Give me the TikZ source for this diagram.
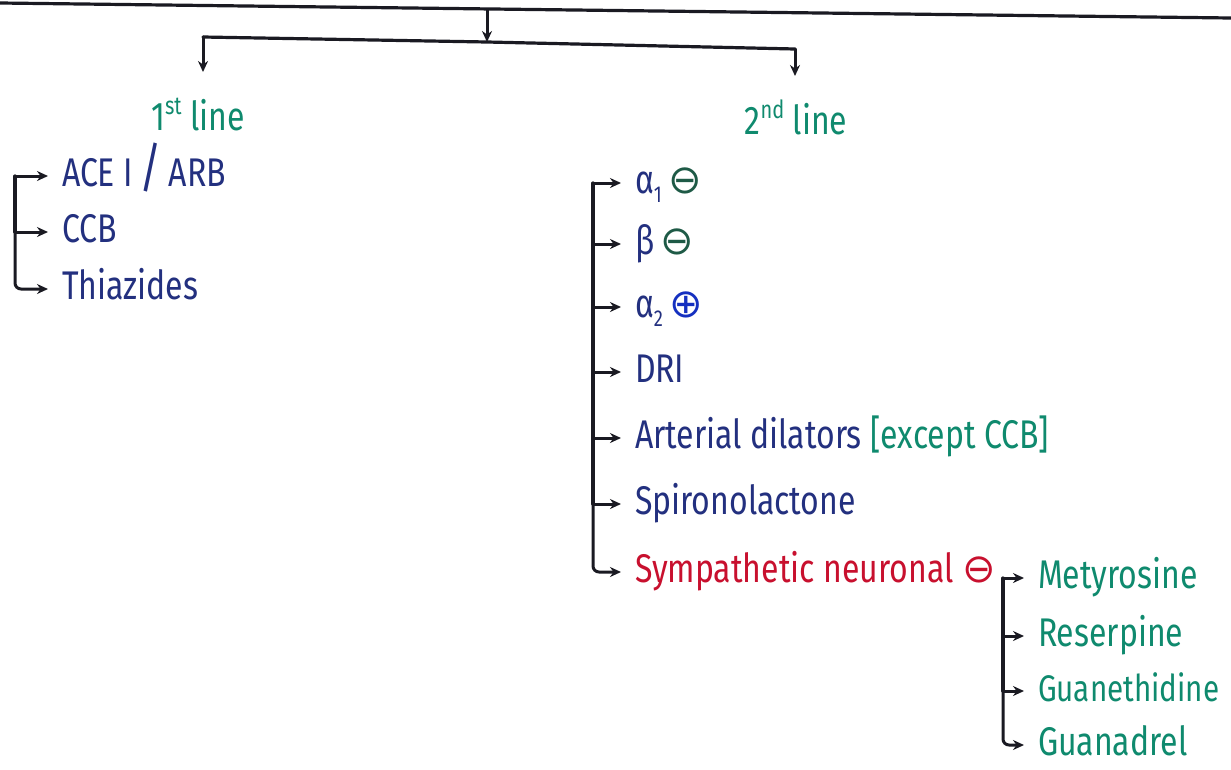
\documentclass[tikz,border=0pt]{standalone}
\usepackage{fontspec}
\setmainfont{Fira Sans}[FakeStretch=0.8]
\newfontfamily\symfont{DejaVu Sans}
\usetikzlibrary{arrows.meta}
\definecolor{ink}{HTML}{1A1A22}
\definecolor{navy}{HTML}{23307F}
\definecolor{teal}{HTML}{0F8A6E}
\definecolor{dgreen}{HTML}{1E5A46}
\definecolor{redd}{HTML}{C8102E}
\definecolor{pblue}{HTML}{1530C0}
\newcommand{\lowidx}[1]{\raisebox{-9pt}{\fontsize{23}{23}\selectfont #1}}
\newcommand{\highidx}[1]{\raisebox{16pt}{\fontsize{25}{25}\selectfont #1}}
\tikzset{
  txt/.style={anchor=west, inner sep=0pt, outer sep=14pt, text height=27pt, text depth=6pt,
    font=\fontsize{40}{46}\selectfont, text=navy},
  head/.style={anchor=center, inner sep=0pt, text height=30pt, text depth=6pt,
    font=\fontsize{40}{46}\selectfont, text=teal},
  arr/.style={-{Stealth[length=11pt,width=10pt]}, line width=3pt, draw=ink, line cap=round},
  ln/.style={line width=3.2pt, draw=ink, line cap=round}
}
\begin{document}
\begin{tikzpicture}[x=1pt,y=-1pt]
\useasboundingbox[fill=white] (0,0) rectangle (1231,769);

% top trunk
\coordinate (tl) at (0,3);
\coordinate (tr) at (1231,18);
\draw[ln] (tl) -- (tr);
\coordinate (split) at (487,9.5);
\coordinate (barmid) at (487,42);
\draw[arr] (split) -- (barmid);
\coordinate (barL) at (203,37);
\coordinate (barR) at (795,49);
\draw[ln] (barL) -- (barmid) -- (barR);
\coordinate (firstTip) at (203,72);
\coordinate (secondTip) at (795,76);
\draw[arr] (barL) -- (firstTip);
\draw[arr] (barR) -- (secondTip);

% headings
\node[head] (first) at (198,118) {1\highidx{st} line};
\node[head] (second) at (796,122) {2\highidx{nd} line};

% first line drugs
\node[txt] (ace) at (48,176) {ACE I\,{\fontsize{54}{54}\selectfont /}\,ARB};
\node[txt] (ccb) at (48,232) {CCB};
\node[txt] (thz) at (48,289) {Thiazides};
\coordinate (Ltop) at (15,176);
\coordinate (Lmid) at (15,232);
\coordinate (Lbot) at (15,289);
\draw[ln] (Ltop) -- (Lmid);
\draw[arr] (Ltop) -- (ace.west);
\draw[arr] (Lmid) -- (ccb.west);
\draw[arr, rounded corners=6pt] (Lmid) -- (Lbot) -- (thz.west);

% second line drugs
\node[txt] (a1) at (621,183) {α\lowidx{1}\,{\symfont\color{dgreen}⊖}};
\node[txt] (beta) at (621,244) {β\,{\symfont\color{dgreen}⊖}};
\node[txt] (a2) at (621,307) {α\lowidx{2}\,{\symfont\color{pblue}⊕}};
\node[txt] (dri) at (621,372) {DRI};
\node[txt] (art) at (621,438) {Arterial dilators {\color{teal}[except CCB]}};
\node[txt] (spi) at (621,504) {Spironolactone};
\node[txt, text=redd] (sym) at (621,572) {Sympathetic neuronal {\symfont ⊖}};
\coordinate (R1) at (593,183);
\coordinate (R2) at (593,244);
\coordinate (R3) at (593,307);
\coordinate (R4) at (593,372);
\coordinate (R5) at (593,438);
\coordinate (R6) at (593,504);
\coordinate (R7) at (593,572);
\draw[ln] (R1) -- (R6);
\draw[arr] (R1) -- (a1.west);
\draw[arr] (R2) -- (beta.west);
\draw[arr] (R3) -- (a2.west);
\draw[arr] (R4) -- (dri.west);
\draw[arr] (R5) -- (art.west);
\draw[arr] (R6) -- (spi.west);
\draw[arr, rounded corners=6pt] (R6) -- (R7) -- (sym.west);

% sympathetic neuronal inhibitors
\node[txt, text=teal] (mety) at (1024,578) {Metyrosine};
\node[txt, text=teal] (res) at (1024,636) {Reserpine};
\node[txt, text=teal, font=\fontsize{37}{44}\selectfont] (gue) at (1024,691) {Guanethidine};
\node[txt, text=teal] (gua) at (1024,745) {Guanadrel};
\coordinate (S1) at (1003,578);
\coordinate (S2) at (1003,636);
\coordinate (S3) at (1003,691);
\coordinate (S4) at (1003,745);
\draw[ln] (S1) -- (S3);
\draw[arr] (S1) -- (mety.west);
\draw[arr] (S2) -- (res.west);
\draw[arr] (S3) -- (gue.west);
\draw[arr, rounded corners=6pt] (S3) -- (S4) -- (gua.west);
\end{tikzpicture}
\end{document}
